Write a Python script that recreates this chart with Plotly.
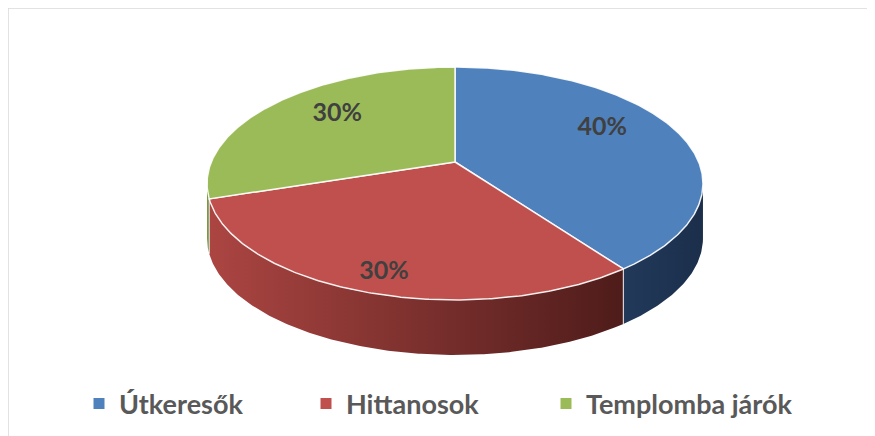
import numpy as np
import plotly.graph_objects as go

# ---- data ----
categories = ["Útkeresők", "Hittanosok", "Templomba járók"]
values = [40, 30, 30]
top_colors = ["#4f81bd", "#c0504d", "#9bbb59"]
side_left_colors = ["#22395a", "#ab4542", "#7c9a42"]
side_right_colors = ["#1b2f4b", "#4e1c1a", "#5f7a31"]

# ---- geometry (styling of the 3D projection) ----
W, H = 875, 436
OFF = 8                # page body margin: data units equal window pixels
CX, CY = 455, 162      # pie apex in pixels
S, C, K = 243.7, 112.5, 0.1845   # horizontal scale, depth scale, perspective
T = 55                 # thickness
LABEL_R = 0.72
label_nudge = [(-13, -9), (-9, 4), (14, -3)]   # small style nudges (px)
legend_x_px = [71, 298, 538]                    # legend entry positions (px)


def proj(X, Y, dz=0.0):
    w = 1 + K * Y
    return CX + S * X / w, CY - C * Y / w + dz


def arc(t0, t1, r=1.0, dz=0.0):
    n = max(2, int(abs(t1 - t0) * 2) + 2)
    th = np.radians(np.linspace(t0, t1, n))
    return proj(r * np.sin(th), r * np.cos(th), dz)


total = float(sum(values))
fracs = [v / total for v in values]
starts = np.concatenate([[0], np.cumsum(fracs)[:-1]]) * 360
ends = np.cumsum(fracs) * 360

vis_a = np.degrees(np.arccos(-K))
vis_b = 360 - vis_a

fig = go.Figure()

# side faces
for i in range(len(values)):
    lo, hi = max(starts[i], vis_a), min(ends[i], vis_b)
    if hi <= lo:
        continue
    xt, yt = arc(lo, hi)
    xb, yb = arc(hi, lo, dz=T)
    xs = np.concatenate([xt, xb, xt[:1]])
    ys = np.concatenate([yt, yb, yt[:1]])
    fig.add_trace(go.Scatter(
        x=xs, y=ys, mode="lines", line=dict(width=0, color="rgba(0,0,0,0)"),
        fill="toself",
        fillgradient=dict(type="horizontal",
                          colorscale=[[0, side_left_colors[i]], [1, side_right_colors[i]]]),
        hoverinfo="skip", showlegend=False))

# dividers on side
for b in list(starts[1:]):
    if vis_a < b < vis_b:
        th = np.radians(b)
        x0, y0 = proj(np.sin(th), np.cos(th))
        x1, y1 = proj(np.sin(th), np.cos(th), T)
        fig.add_trace(go.Scatter(x=[x0, x1], y=[y0, y1], mode="lines",
                                 line=dict(color="rgba(255,255,255,0.75)", width=1.2),
                                 hoverinfo="skip", showlegend=False))

# top faces
for i in range(len(values)):
    xa, ya = arc(starts[i], ends[i])
    xs = np.concatenate([[CX], xa, [CX]])
    ys = np.concatenate([[CY], ya, [CY]])
    fig.add_trace(go.Scatter(
        x=xs, y=ys, mode="lines", line=dict(width=1.5, color="rgba(255,255,255,0.9)"),
        fill="toself", fillcolor=top_colors[i],
        hoverinfo="skip", showlegend=False))

# labels
lx, ly, lt = [], [], []
for i in range(len(values)):
    mid = np.radians((starts[i] + ends[i]) / 2)
    Xm, Ym = np.sin(mid), np.cos(mid)
    x, y = proj(LABEL_R * Xm, LABEL_R * Ym, T * 0.35 * max(0.0, -Ym))
    lx.append(x + label_nudge[i][0])
    ly.append(y + label_nudge[i][1])
    lt.append(f"{round(values[i] / total * 100)}%")
fig.add_trace(go.Scatter(x=lx, y=ly, mode="text", text=lt,
                         textfont=dict(family="Lato", size=25, color="#404040", weight="bold"),
                         hoverinfo="skip", showlegend=False))

# legend entries, one legend per entry so each can be placed
legend_layout = {}
for i, cat in enumerate(categories):
    lname = "legend" if i == 0 else f"legend{i + 1}"
    fig.add_trace(go.Scatter(x=[None], y=[None], mode="markers", name=cat, legend=lname,
                             marker=dict(symbol="square", size=11, color=top_colors[i])))
    legend_layout[lname] = dict(
        orientation="h", x=legend_x_px[i] / W, xanchor="left",
        y=1 - 396 / H, yanchor="middle",
        font=dict(family="Lato", size=27, color="#595959", weight="bold"),
        bgcolor="rgba(0,0,0,0)")

fig.add_shape(type="rect", xref="paper", yref="paper", x0=0, y0=-0.1, x1=1.1, y1=1,
              line=dict(color="#d9d9d9", width=1.5), fillcolor="rgba(0,0,0,0)", layer="below")

fig.update_layout(
    width=W, height=H, margin=dict(l=0, r=0, t=0, b=0),
    paper_bgcolor="white", plot_bgcolor="white",
    xaxis=dict(range=[OFF, W + OFF], visible=False, fixedrange=True),
    yaxis=dict(range=[H + OFF, OFF], visible=False, fixedrange=True),
    showlegend=True,
    **legend_layout,
)

fig.write_html("out.html")
